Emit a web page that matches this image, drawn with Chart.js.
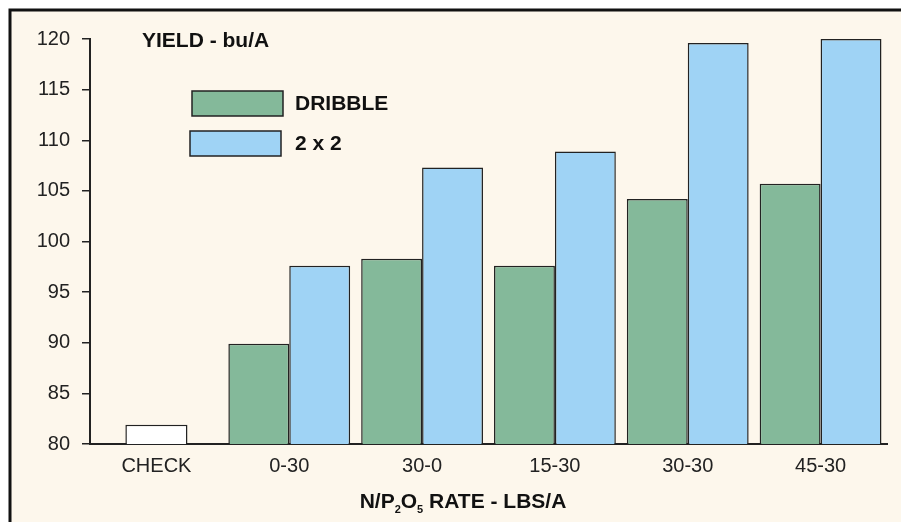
<!DOCTYPE html>
<html>
<head>
<meta charset="utf-8">
<script src="https://cdn.jsdelivr.net/npm/chart.js@4.4.1/dist/chart.umd.min.js"></script>
<style>
  body { margin: 0; background: #fff; }
  canvas { display: block; }
</style>
</head>
<body>
<canvas id="myChart" width="901" height="522"></canvas>
<script>
var categories = ['CHECK', '0-30', '30-0', '15-30', '30-30', '45-30'];
var checkYield = [81.9, null, null, null, null, null];
var dribbleYield = [null, 89.9, 98.3, 97.6, 104.2, 105.7];
var twoByTwoYield = [null, 97.6, 107.3, 108.9, 119.6, 120.0];

var FONT = "'Liberation Sans', Arial, sans-serif";
var INK = '#222';

// cream panel with the black frame (right and bottom run off the picture)
var framePlugin = {
  id: 'frame',
  beforeDraw: function(chart) {
    var ctx = chart.ctx;
    ctx.save();
    ctx.fillStyle = '#ffffff';
    ctx.fillRect(0, 0, chart.width, chart.height);
    ctx.fillStyle = '#fdf7ec';
    ctx.fillRect(10, 10, chart.width + 20, chart.height + 20);
    ctx.strokeStyle = '#111';
    ctx.lineWidth = 3;
    ctx.strokeRect(10, 10, chart.width + 40, chart.height + 40);
    ctx.restore();
  }
};

// titles and the legend sit inside the plot, so they are drawn here
var labelsPlugin = {
  id: 'labels',
  afterDraw: function(chart) {
    var ctx = chart.ctx;
    ctx.save();
    ctx.fillStyle = '#111';
    ctx.textBaseline = 'alphabetic';
    ctx.textAlign = 'left';
    ctx.font = 'bold 21px ' + FONT;
    ctx.fillText('YIELD - bu/A', 142, 47);

    // legend
    var boxes = [{x: 192, y: 91}, {x: 190, y: 131}];
    var sets = chart.data.datasets.slice(1);
    sets.forEach(function(ds, i) {
      var b = boxes[i];
      ctx.fillStyle = ds.backgroundColor;
      ctx.fillRect(b.x, b.y, 91, 25);
      ctx.strokeStyle = INK;
      ctx.lineWidth = 1.5;
      ctx.strokeRect(b.x, b.y, 91, 25);
      ctx.fillStyle = '#111';
      ctx.font = 'bold 21px ' + FONT;
      ctx.textBaseline = 'middle';
      ctx.fillText(ds.label, 295, b.y + 13.5);
    });

    // x axis title with subscripts
    var parts = [
      {t: 'N/P', big: true}, {t: '2', big: false}, {t: 'O', big: true},
      {t: '5', big: false}, {t: ' RATE - LBS/A', big: true}
    ];
    ctx.textBaseline = 'alphabetic';
    var total = 0;
    parts.forEach(function(p) {
      ctx.font = 'bold ' + (p.big ? 21 : 11) + 'px ' + FONT;
      p.w = ctx.measureText(p.t).width;
      total += p.w;
    });
    var x = 463 - total / 2;
    parts.forEach(function(p) {
      ctx.font = 'bold ' + (p.big ? 21 : 11) + 'px ' + FONT;
      ctx.fillText(p.t, x, p.big ? 508 : 513);
      x += p.w;
    });
    ctx.restore();
  }
};

var ctx = document.getElementById('myChart').getContext('2d');
var chart = new Chart(ctx, {
  type: 'bar',
  data: {
    labels: categories,
    datasets: [{
      label: 'CHECK',
      data: checkYield,
      backgroundColor: '#ffffff',
      borderColor: INK,
      borderWidth: 1.5,
      barPercentage: 0.51
    }, {
      label: 'DRIBBLE',
      data: dribbleYield,
      backgroundColor: '#84b99a',
      borderColor: INK,
      borderWidth: 1.5
    }, {
      label: '2 x 2',
      data: twoByTwoYield,
      backgroundColor: '#9fd3f5',
      borderColor: INK,
      borderWidth: 1.5
    }]
  },
  options: {
    responsive: false,
    animation: false,
    skipNull: true,
    categoryPercentage: 0.917,
    barPercentage: 1,
    layout: { padding: { top: 39, right: 14, bottom: 0, left: 0 } },
    plugins: {
      legend: { display: false },
      tooltip: { enabled: false }
    },
    scales: {
      x: {
        grid: { display: false, drawTicks: false },
        border: { color: INK, width: 2 },
        ticks: { font: { family: FONT, size: 20 }, color: INK, padding: 10 },
        afterFit: function(scale) { scale.height = 78; }
      },
      y: {
        min: 80,
        max: 120,
        ticks: { stepSize: 5, font: { family: FONT, size: 20 }, color: INK, padding: 12 },
        grid: { drawOnChartArea: false, tickLength: 8, color: INK, lineWidth: 1.5 },
        border: { color: INK, width: 2 },
        afterFit: function(scale) { scale.width = 90; }
      }
    }
  },
  plugins: [framePlugin, labelsPlugin]
});
</script>
</body>
</html>
